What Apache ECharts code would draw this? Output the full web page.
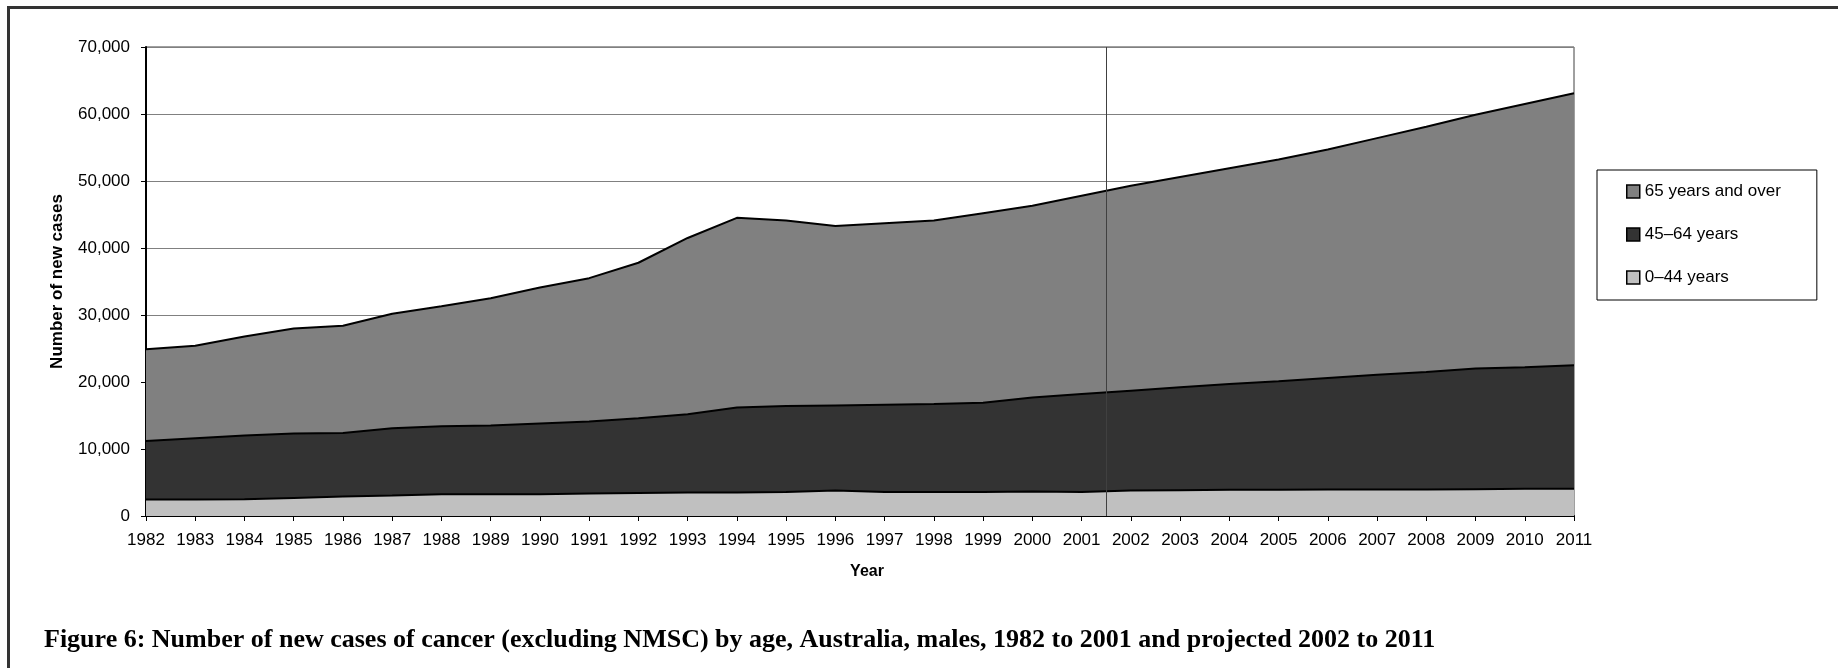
<!DOCTYPE html>
<html>
<head>
<meta charset="utf-8">
<script src="https://cdn.jsdelivr.net/npm/echarts@6.0.0/dist/echarts.min.js"></script>
<style>
	html, body { margin: 0; padding: 0; background: #fff; }
	#chart { width: 1838px; height: 668px; }
</style>
</head>
<body>
<div id="chart"></div>
<script>
	var years = ['1982', '1983', '1984', '1985', '1986', '1987', '1988', '1989', '1990', '1991',
		'1992', '1993', '1994', '1995', '1996', '1997', '1998', '1999', '2000', '2001',
		'2002', '2003', '2004', '2005', '2006', '2007', '2008', '2009', '2010', '2011'];

	// cases per age group (not cumulative)
	var age0to44 = [2450, 2450, 2500, 2700, 2900, 3050, 3250, 3250, 3250, 3350,
		3450, 3500, 3500, 3600, 3800, 3600, 3600, 3600, 3650, 3600,
		3800, 3850, 3900, 3900, 3950, 3950, 3950, 4000, 4050, 4050];
	var age45to64 = [8750, 9150, 9500, 9600, 9500, 10050, 10150, 10250, 10550, 10750,
		11150, 11700, 12700, 12800, 12700, 13000, 13100, 13300, 14050, 14600,
		14900, 15350, 15800, 16200, 16650, 17150, 17550, 18000, 18150, 18450];
	var age65plus = [13700, 13800, 14800, 15700, 16000, 17100, 17900, 19000, 20300, 21400,
		23200, 26300, 28300, 27700, 26800, 27100, 27400, 28300, 28600, 29600,
		30600, 31400, 32200, 33100, 34100, 35300, 36600, 37900, 39300, 40600];

	var seriesNames = ['0–44 years', '45–64 years', '65 years and over'];
	var projectionStart = 2001.5;   // between last actual year and first projected year

	var font = "'Liberation Sans', Arial, sans-serif";

	function areaSeries(name, vals, fill) {
		return {
			name: name,
			type: 'line',
			stack: 'total',
			symbol: 'none',
			itemStyle: { color: fill },
			lineStyle: { color: '#000', width: 2 },
			areaStyle: { color: fill, opacity: 1 },
			data: vals
		};
	}

	var myChart = echarts.init(document.getElementById('chart'));

	var option = {
		animation: false,
		textStyle: { fontFamily: font },
		title: {
			text: 'Figure 6: Number of new cases of cancer (excluding NMSC) by age, Australia, males, 1982 to 2001 and projected 2002 to 2011',
			left: 44,
			top: 627,
			padding: 0,
			textStyle: {
				fontFamily: "'Liberation Serif', 'Times New Roman', serif",
				fontWeight: 'bold',
				fontSize: 26,
				color: '#000'
			}
		},
		graphic: [
			{ type: 'line', shape: { x1: 8.5, y1: 6, x2: 8.5, y2: 668 }, style: { stroke: '#333', lineWidth: 3 } },
			{ type: 'line', shape: { x1: 7, y1: 7.5, x2: 1838, y2: 7.5 }, style: { stroke: '#333', lineWidth: 3 } }
		],
		legend: {
			orient: 'vertical',
			left: 1597,
			top: 170,
			padding: [13, 36, 14, 29],
			itemGap: 26,
			itemWidth: 13,
			itemHeight: 13,
			icon: 'rect',
			borderColor: '#000',
			borderWidth: 1,
			itemStyle: { borderColor: '#000', borderWidth: 1.5 },
			textStyle: { fontSize: 17, color: '#000', fontFamily: font },
			data: [seriesNames[2], seriesNames[1], seriesNames[0]]
		},
		grid: {
			left: 146,
			right: 264,
			top: 47,
			bottom: 152,
			show: true,
			borderColor: '#404040',
			borderWidth: 1
		},
		xAxis: [
			{
				type: 'category',
				data: years,
				boundaryGap: false,
				name: 'Year',
				nameLocation: 'middle',
				nameGap: 48,
				nameTextStyle: { fontSize: 16, fontWeight: 'bold', color: '#000', padding: [0, 0, 0, 14] },
				axisLine: { lineStyle: { color: '#000', width: 2 } },
				axisTick: { show: true, length: 5, interval: 0, lineStyle: { color: '#000' } },
				axisLabel: { fontSize: 17, color: '#000', margin: 16, interval: 0 },
				splitLine: { show: false }
			},
			{
				// hidden numeric axis, only used to place the projection line
				type: 'value',
				min: 1982,
				max: 2011,
				show: false
			}
		],
		yAxis: {
			type: 'value',
			min: 0,
			max: 70000,
			interval: 10000,
			name: 'Number of new cases',
			nameLocation: 'middle',
			nameGap: 80,
			nameTextStyle: { fontSize: 17, fontWeight: 'bold', color: '#000' },
			axisLine: { show: true, lineStyle: { color: '#000', width: 2 } },
			axisTick: { show: true, length: 5, lineStyle: { color: '#000' } },
			axisLabel: { fontSize: 17, color: '#000', margin: 16 },
			splitLine: { show: true, lineStyle: { color: '#808080', width: 1 } }
		},
		series: [
			areaSeries(seriesNames[0], age0to44, '#c0c0c0'),
			areaSeries(seriesNames[1], age45to64, '#333333'),
			areaSeries(seriesNames[2], age65plus, '#808080'),
			{
				name: 'projection',
				type: 'line',
				xAxisIndex: 1,
				symbol: 'none',
				lineStyle: { opacity: 0 },
				data: [[1982, 0]],
				z: 5,
				markLine: {
					silent: true,
					symbol: 'none',
					label: { show: false },
					lineStyle: { color: '#404040', width: 1, type: 'solid' },
					data: [{ xAxis: projectionStart }]
				}
			}
		]
	};

	myChart.setOption(option);
</script>
</body>
</html>
